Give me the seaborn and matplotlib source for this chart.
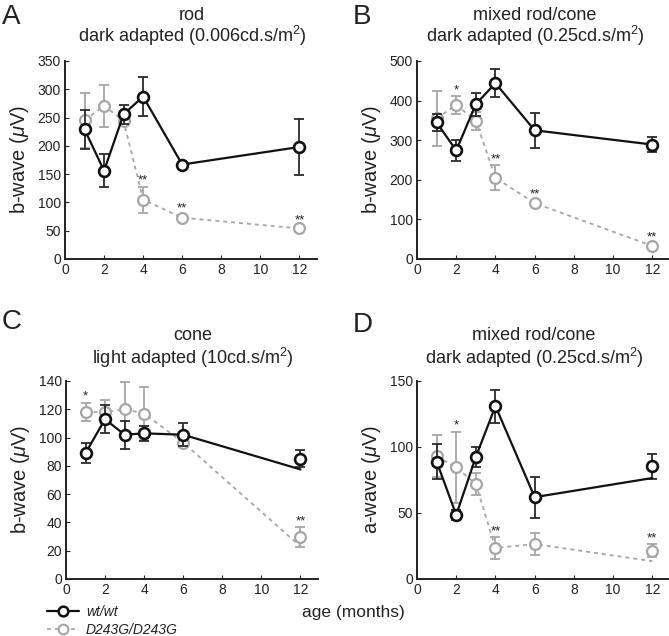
import numpy as np
import pandas as pd
import matplotlib
matplotlib.use("Agg")
import matplotlib.pyplot as plt
from matplotlib.lines import Line2D
import seaborn as sns

# ---------------- data ----------------
months = [1, 2, 3, 4, 6, 12]
x_ticks = [0, 2, 4, 6, 8, 10, 12]

A_wt = [229, 156, 256, 287, 167, 198]
A_wt_err = [34, 29, 17, 34, 3, 49]
A_wt_line = [229, 156, 256, 287, 167, 198]
A_mut = [245, 271, 244, 105, 73, 54]
A_mut_err = [49, 37, 3, 23, 5, 4]
A_mut_line = [245, 271, 244, 105, 73, 54]
A_stars = ['', '', '', '**', '**', '**']
A_yticks = [0, 50, 100, 150, 200, 250, 300, 350]

B_wt = [345, 274, 391, 444, 325, 289]
B_wt_err = [22, 27, 29, 35, 44, 19]
B_wt_line = [345, 274, 391, 444, 325, 289]
B_mut = [355, 389, 349, 205, 141, 33]
B_mut_err = [69, 22, 22, 32, 6, 6]
B_mut_line = [355, 389, 349, 205, 141, 33]
B_stars = ['', '*', '', '**', '**', '**']
B_yticks = [0, 100, 200, 300, 400, 500]

C_wt = [89, 113, 102, 103, 102, 85]
C_wt_err = [7, 10, 10, 5.5, 8, 6]
C_wt_line = [89, 113, 102, 103, 102, 77.5]
C_mut = [118, 118, 120, 117, 96.5, 29.5]
C_mut_err = [6.5, 8.5, 19, 19, 3, 7]
C_mut_line = [118, 118, 120, 117, 96.5, 23]
C_stars = ['*', '', '', '', '', '**']
C_yticks = [0, 20, 40, 60, 80, 100, 120, 140]

D_wt = [89, 48.5, 92.5, 131, 62, 85.5]
D_wt_err = [13, 4, 7.5, 12.5, 15.5, 9.5]
D_wt_line = [89, 48.5, 92.5, 131, 62, 76.5]
D_mut = [93, 84.5, 72, 23.5, 26.5, 21.5]
D_mut_err = [16, 27, 8.5, 8, 8.5, 5]
D_mut_line = [93, 84.5, 72, 23.5, 26.5, 13.5]
D_stars = ['', '*', '', '**', '', '**']
D_yticks = [0, 50, 100, 150]

panel_letters = ['A', 'B', 'C', 'D']
titles_1 = ['rod', 'mixed rod/cone', 'cone', 'mixed rod/cone']
titles_2 = ['dark adapted (0.006cd.s/m$^2$)', 'dark adapted (0.25cd.s/m$^2$)',
            'light adapted (10cd.s/m$^2$)', 'dark adapted (0.25cd.s/m$^2$)']
ylabels = ['b-wave ($\\mathit{\\mu}$V)', 'b-wave ($\\mathit{\\mu}$V)',
           'b-wave ($\\mathit{\\mu}$V)', 'a-wave ($\\mathit{\\mu}$V)']
legend_labels = ['wt/wt', 'D243G/D243G']
xlabel = 'age (months)'

# ---------------- style ----------------
sns.set_theme(style="ticks")
plt.rcParams['font.family'] = ['Liberation Sans', 'DejaVu Sans']
plt.rcParams['mathtext.fontset'] = 'custom'
plt.rcParams['mathtext.rm'] = 'Liberation Sans'
plt.rcParams['mathtext.it'] = 'Liberation Sans:italic'
plt.rcParams['mathtext.default'] = 'regular'

WT = '#111111'
MUT = '#a6a6a6'
TXT = '#222222'

W, H = 669, 636
fig = plt.figure(figsize=(W / 100, H / 100), dpi=100)

def fx(px):
    return px / W

def fy(py):
    return 1 - py / H

# axes pixel boxes: left, top, right, bottom
boxes = [(65, 61, 317, 259), (417, 61, 670, 259),
         (66, 381, 318, 579), (417, 381, 670, 579)]

panels = [
    (A_wt, A_wt_err, A_wt_line, A_mut, A_mut_err, A_mut_line, A_stars, A_yticks),
    (B_wt, B_wt_err, B_wt_line, B_mut, B_mut_err, B_mut_line, B_stars, B_yticks),
    (C_wt, C_wt_err, C_wt_line, C_mut, C_mut_err, C_mut_line, C_stars, C_yticks),
    (D_wt, D_wt_err, D_wt_line, D_mut, D_mut_err, D_mut_line, D_stars, D_yticks),
]

title_x = [192, 535, 193, 534]
title_y1 = [15, 15, 336, 336]
title_y2 = [36, 36, 358, 358]
letter_x = [2, 353, 2, 353]
letter_y = [17, 17, 322, 325]

axes = []
for i, (box, pdata) in enumerate(zip(boxes, panels)):
    l, t, r, b = box
    ax = fig.add_axes([fx(l), fy(b), (r - l) / W, (b - t) / H])
    axes.append(ax)
    wt, wt_err, wt_line, mut, mut_err, mut_line, stars, yticks = pdata

    df_mut = pd.DataFrame({'month': months, 'v': mut, 'line': mut_line})
    df_wt = pd.DataFrame({'month': months, 'v': wt, 'line': wt_line})

    # mutant
    ax.errorbar(months, mut, yerr=mut_err, fmt='none', ecolor=MUT,
                elinewidth=1.3, capsize=3.5, capthick=1.3, zorder=1)
    sns.lineplot(data=df_mut, x='month', y='line', ax=ax, color=MUT,
                 linewidth=1.3, linestyle=(0, (2.2, 2.2)), zorder=2)
    ax.plot(df_mut['month'], df_mut['v'], linestyle='none', marker='o',
            markersize=7.8, markerfacecolor='white', markeredgecolor=MUT,
            markeredgewidth=1.6, zorder=3)
    # wild type
    ax.errorbar(months, wt, yerr=wt_err, fmt='none', ecolor='#2a2a2a',
                elinewidth=1.3, capsize=3.5, capthick=1.3, zorder=4)
    sns.lineplot(data=df_wt, x='month', y='line', ax=ax, color=WT,
                 linewidth=1.6, zorder=5)
    ax.plot(df_wt['month'], df_wt['v'], linestyle='none', marker='o',
            markersize=7.8, markerfacecolor='white', markeredgecolor=WT,
            markeredgewidth=1.9, zorder=6)

    # significance stars
    for m, v, e, s in zip(months, mut, mut_err, stars):
        if s:
            ax.annotate(s, xy=(m, v + e), xytext=(0, 0), textcoords='offset points',
                        ha='center', va='bottom', fontsize=9.5, color=TXT, zorder=7)

    ax.set_xlim(0, 12.9)
    ax.set_ylim(0, yticks[-1])
    ax.set_xticks(x_ticks)
    ax.set_yticks(yticks)
    ax.set_xlabel('')
    ax.set_ylabel(ylabels[i], fontsize=14.5, color=TXT, labelpad=5)
    ax.tick_params(direction='in', length=3, width=0.8, labelsize=10,
                   colors=TXT, pad=3)
    sns.despine(ax=ax)
    for sp in ['left', 'bottom']:
        ax.spines[sp].set_linewidth(1.4)
        ax.spines[sp].set_color('#222222')
    ax.spines['bottom'].set_clip_on(False)

    fig.text(fx(title_x[i]), fy(title_y1[i]), titles_1[i], ha='center', va='center',
             fontsize=13, color=TXT)
    fig.text(fx(title_x[i]), fy(title_y2[i]), titles_2[i], ha='center', va='center',
             fontsize=13, color=TXT)
    fig.text(fx(letter_x[i]), fy(letter_y[i]), panel_letters[i], ha='left', va='center',
             fontsize=20, color=TXT)

# legend
handles = [
    Line2D([0], [0], color=WT, linewidth=1.6, marker='o', markersize=7,
           markerfacecolor='white', markeredgecolor=WT, markeredgewidth=1.8),
    Line2D([0], [0], color=MUT, linewidth=1.3, linestyle=(0, (2.2, 2.2)), marker='o',
           markersize=7, markerfacecolor='white', markeredgecolor=MUT, markeredgewidth=1.5),
]
fig.legend(handles, legend_labels, loc='center left',
           bbox_to_anchor=(fx(40), fy(621)), frameon=False,
           prop={'style': 'italic', 'size': 10}, handlelength=2.3,
           handletextpad=0.5, labelspacing=0.3, borderpad=0, labelcolor=TXT)

fig.text(fx(353), fy(613), xlabel, ha='center', va='center', fontsize=12.5, color=TXT)

fig.savefig('out.png', dpi=100)
